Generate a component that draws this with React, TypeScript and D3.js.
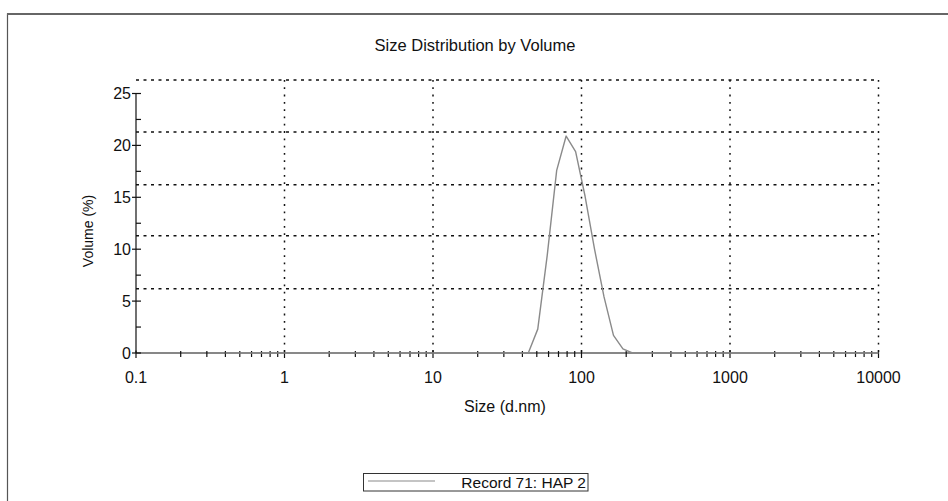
import React from "react";
import * as d3 from "d3";

// Size classes (d.nm) and the volume (%) recorded in each
const sizes = [0.4, 43.82, 50.75, 58.77, 68.06, 78.82, 91.28, 105.7, 122.4, 141.8, 164.2, 190.1, 220.2, 10000];
const volumes = [0, 0, 2.3, 9.4, 17.6, 20.9, 19.4, 15.1, 10.0, 5.4, 1.7, 0.4, 0, 0];

const xTickValues = [0.1, 1, 10, 100, 1000, 10000];
const xTickLabels = ["0.1", "1", "10", "100", "1000", "10000"];
const xGridValues = [1, 10, 100, 1000, 10000];
const yTickValues = [0, 5, 10, 15, 20, 25];
const yTickLabels = ["0", "5", "10", "15", "20", "25"];
const yMinorValues = [2.5, 7.5, 12.5, 17.5, 22.5];
const yGridValues = [6.2, 11.3, 16.2, 21.3, 26.3];

const title = "Size Distribution by Volume";
const xLabel = "Size (d.nm)";
const yLabel = "Volume (%)";
const legendLabel = "Record 71: HAP 2";

const W = 948;
const H = 501;
const FONT = "'Liberation Sans', Arial, sans-serif";

export default function App() {
  const x = d3.scaleLog().domain([0.1, 10000]).range([136, 878.5]);
  const y = d3.scaleLinear().domain([0, 25]).range([353, 93.5]);

  const decades = new Set(xTickValues.map((v) => Math.round(Math.log10(v) * 1000)));
  const xMinor = x.ticks().filter((v) => !decades.has(Math.round(Math.log10(v) * 1000)));

  const points: [number, number][] = sizes.map((s, i) => [s, volumes[i]]);
  const line = d3
    .line<[number, number]>()
    .x((d) => x(d[0]))
    .y((d) => y(d[1]));

  const [x0, x1] = x.range();
  const y0 = y(0);
  const yTop = y(yGridValues[yGridValues.length - 1]);

  return (
    <svg
      width={W}
      height={H}
      viewBox={`0 0 ${W} ${H}`}
      style={{ position: "absolute", left: 0, top: 0, display: "block", background: "#fff" }}
    >
      {/* outer frame */}
      <rect x={7.5} y={14} width={W + 20} height={H + 20} fill="#fff" stroke="#555" strokeWidth={1.2} />
      <line x1={7} x2={W} y1={14} y2={14} stroke="#666" strokeWidth={2} />

      <text x={475} y={51} textAnchor="middle" fontFamily={FONT} fontSize={16.5} fill="#111">
        {title}
      </text>

      {/* dotted grid */}
      <g stroke="#111" strokeWidth={1.5} fill="none">
        {yGridValues.map((v) => (
          <line key={"hg" + v} x1={x0} x2={x1} y1={y(v)} y2={y(v)} strokeDasharray="3,4.5" />
        ))}
        {xGridValues.map((v) => (
          <line key={"vg" + v} x1={x(v)} x2={x(v)} y1={yTop} y2={y0} strokeDasharray="1.8,5.5" />
        ))}
      </g>

      {/* y axis */}
      <g stroke="#111" strokeWidth={1.2}>
        <line x1={x0} x2={x0} y1={y(25)} y2={y0} />
        {yTickValues.map((v) => (
          <line key={"yt" + v} x1={x0 - 4} x2={x0 + 5} y1={y(v)} y2={y(v)} />
        ))}
        {yMinorValues.map((v) => (
          <line key={"ym" + v} x1={x0} x2={x0 + 5} y1={y(v)} y2={y(v)} />
        ))}
      </g>
      {yTickValues.map((v, i) => (
        <text
          key={"yl" + v}
          x={x0 - 5}
          y={y(v) + 5.5}
          textAnchor="end"
          fontFamily={FONT}
          fontSize={16}
          fill="#111"
        >
          {yTickLabels[i]}
        </text>
      ))}
      <text
        transform={`translate(93,231) rotate(-90)`}
        textAnchor="middle"
        fontFamily={FONT}
        fontSize={14}
        fill="#111"
      >
        {yLabel}
      </text>

      {/* x axis */}
      <g stroke="#111" strokeWidth={1.2}>
        <line x1={x0} x2={x1} y1={y0} y2={y0} />
        {xTickValues.map((v) => (
          <line key={"xt" + v} x1={x(v)} x2={x(v)} y1={y0 - 2.5} y2={y0 + 5} />
        ))}
        {xMinor.map((v) => (
          <line key={"xm" + v} x1={x(v)} x2={x(v)} y1={y0 - 2} y2={y0 + 4} />
        ))}
      </g>
      {xTickValues.map((v, i) => (
        <text
          key={"xl" + v}
          x={x(v)}
          y={383}
          textAnchor="middle"
          fontFamily={FONT}
          fontSize={16}
          fill="#111"
        >
          {xTickLabels[i]}
        </text>
      ))}
      <text x={505} y={412} textAnchor="middle" fontFamily={FONT} fontSize={16} fill="#111">
        {xLabel}
      </text>

      {/* distribution */}
      <path d={line(points) ?? ""} fill="none" stroke="#8a8a8a" strokeWidth={1.4} strokeLinejoin="round" />

      {/* legend */}
      <rect x={363.5} y={473.5} width={224.5} height={17.5} fill="#fff" stroke="#333" strokeWidth={1} />
      <line x1={368} x2={435} y1={481} y2={481} stroke="#8a8a8a" strokeWidth={1.2} />
      <text x={586} y={488} textAnchor="end" fontFamily={FONT} fontSize={15.5} fill="#111">
        {legendLabel}
      </text>
    </svg>
  );
}
